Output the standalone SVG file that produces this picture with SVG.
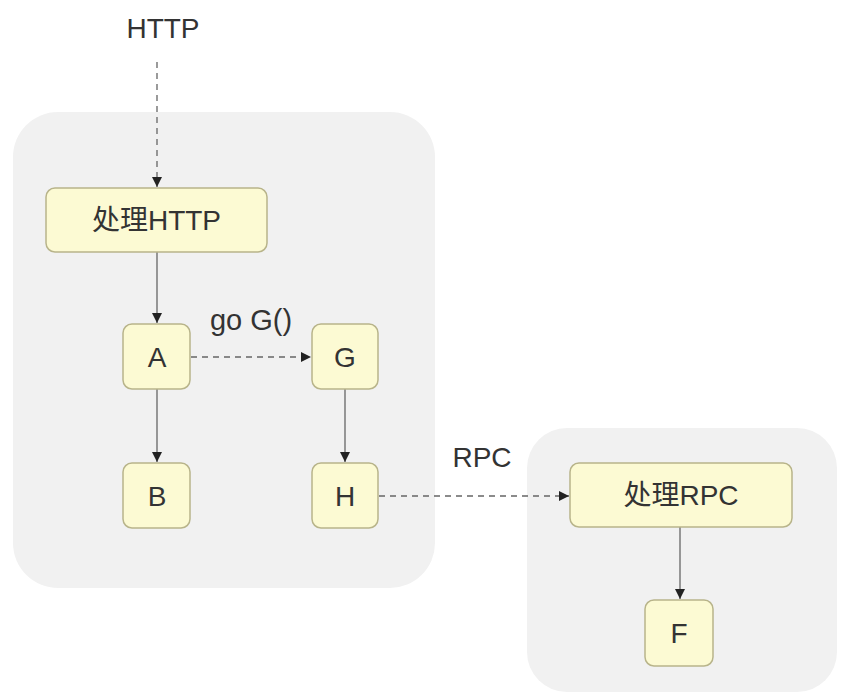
<svg xmlns="http://www.w3.org/2000/svg" width="844" height="699" viewBox="0 0 844 699">
<style>
.bg{fill:#f1f1f1;}
.node{fill:#fcfad3;stroke:#b8b48a;stroke-width:1.5;}
.t{font-family:"Liberation Sans","Noto Sans CJK SC",sans-serif;font-size:28px;fill:#333;text-anchor:middle;}
.solid{stroke:#666;stroke-width:1.3;fill:none;}
.dash{stroke:#666;stroke-width:1.3;fill:none;stroke-dasharray:6 5;}
</style>
<defs>
<marker id="ah" viewBox="0 0 10 10" refX="10" refY="5" markerWidth="10" markerHeight="10" markerUnits="userSpaceOnUse" orient="auto">
<path d="M0,0 L10,5 L0,10 z" fill="#222"/>
</marker>
</defs>
<rect width="844" height="699" fill="#ffffff"/>
<g id="container-left"><rect class="bg" x="13" y="112" width="422" height="476" rx="45"/></g>
<g id="container-right"><rect class="bg" x="527" y="428" width="310" height="264" rx="40"/></g>
<g id="connectors">
<path class="dash" d="M157,62 L157,187" marker-end="url(#ah)"/>
<path class="solid" d="M157,252 L157,323" marker-end="url(#ah)"/>
<path class="dash" d="M191,357 L311,357" marker-end="url(#ah)"/>
<path class="solid" d="M157,389 L157,462" marker-end="url(#ah)"/>
<path class="solid" d="M345,389 L345,462" marker-end="url(#ah)"/>
<path class="dash" d="M379,496 L569,496" marker-end="url(#ah)"/>
<path class="solid" d="M680,527 L680,599" marker-end="url(#ah)"/>
</g>
<g id="label-http"><text class="t" x="163" y="38">HTTP</text></g>
<g id="label-goG"><text class="t" x="251" y="330" style="font-size:29px">go G()</text></g>
<g id="label-rpc"><text class="t" x="482" y="467">RPC</text></g>
<g id="node-http"><rect class="node" x="46" y="188" width="221" height="64" rx="9"/><text class="t" x="156.5" y="230">处理HTTP</text></g>
<g id="node-A"><rect class="node" x="123" y="324" width="67" height="65" rx="9"/><text class="t" x="157" y="367">A</text></g>
<g id="node-G"><rect class="node" x="312" y="324" width="66" height="65" rx="9"/><text class="t" x="345" y="367">G</text></g>
<g id="node-B"><rect class="node" x="123" y="463" width="67" height="65" rx="9"/><text class="t" x="157" y="506">B</text></g>
<g id="node-H"><rect class="node" x="312" y="463" width="66" height="65" rx="9"/><text class="t" x="345" y="506">H</text></g>
<g id="node-rpc"><rect class="node" x="570" y="463" width="222" height="64" rx="9"/><text class="t" x="681" y="505">处理RPC</text></g>
<g id="node-F"><rect class="node" x="645" y="600" width="68" height="66" rx="9"/><text class="t" x="679" y="643">F</text></g>
</svg>
